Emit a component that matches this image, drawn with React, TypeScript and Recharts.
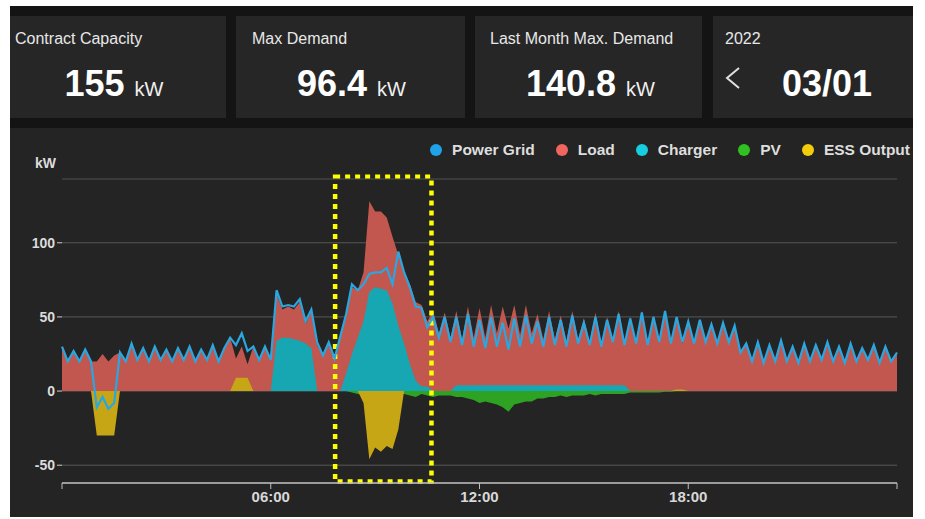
import React from 'react';
import {
  ComposedChart,
  Area,
  Line,
  XAxis,
  YAxis,
  CartesianGrid,
  ReferenceLine,
  ReferenceArea,
} from 'recharts';

// 10-minute samples, 00:00 .. 24:00 (kW)
const powerGrid = [
  30, 20, 27, 20, 28, 20, -11, -4, -12, -8,
  26, 20, 32, 21, 29, 20, 30, 21, 28, 20,
  29, 21, 30, 20, 28, 21, 31, 20, 29, 36,
  31, 39, 27, 30, 21, 30, 21, 68, 57, 58,
  57, 62, 47, 55, 33, 24, 33, 22, 37, 52,
  72, 68, 72, 79, 80, 80, 83, 72, 94, 80,
  70, 57, 56, 43, 50, 36, 50, 33, 50, 31,
  52, 30, 48, 29, 50, 30, 46, 28, 49, 30,
  51, 32, 47, 30, 50, 31, 48, 30, 51, 32,
  46, 31, 50, 30, 48, 33, 52, 31, 49, 32,
  53, 31, 50, 33, 54, 32, 50, 33, 47, 32,
  48, 33, 45, 32, 46, 33, 44, 26, 32, 20,
  33, 19, 31, 20, 34, 20, 30, 19, 32, 20,
  31, 21, 33, 20, 30, 19, 32, 20, 29, 21,
  31, 19, 30, 20, 26,
];

const load = [
  30, 20, 27, 20, 28, 20, 20, 25, 20, 24,
  26, 20, 32, 21, 29, 20, 30, 21, 28, 20,
  29, 21, 30, 20, 28, 21, 31, 20, 29, 36,
  22, 30, 18, 30, 21, 30, 21, 66, 55, 57,
  55, 60, 45, 54, 31, 24, 32, 22, 36, 51,
  70, 68, 80, 128, 121, 121, 117, 104, 92, 81,
  72, 60, 58, 47, 54, 39, 53, 36, 54, 35,
  57, 36, 56, 36, 58, 39, 57, 42, 58, 38,
  58, 39, 52, 35, 54, 35, 51, 34, 54, 35,
  49, 33, 53, 32, 50, 35, 54, 33, 50, 33,
  54, 32, 51, 34, 54, 32, 49, 32, 47, 32,
  48, 33, 45, 32, 46, 33, 44, 26, 32, 20,
  33, 19, 31, 20, 34, 20, 30, 19, 32, 20,
  31, 21, 33, 20, 30, 19, 32, 20, 29, 21,
  31, 19, 30, 20, 26,
];

const charger = [
  0, 0, 0, 0, 0, 0, 0, 0, 0, 0,
  0, 0, 0, 0, 0, 0, 0, 0, 0, 0,
  0, 0, 0, 0, 0, 0, 0, 0, 0, 0,
  0, 0, 0, 0, 0, 0, 0, 34, 36, 36,
  35, 34, 32, 29, 0, 0, 0, 0, 0, 12,
  25, 36, 47, 67, 70, 69, 68, 59, 44, 32,
  18, 7, 3, 3, 0, 0, 0, 0, 4, 4,
  4, 4, 4, 4, 4, 4, 4, 4, 4, 4,
  4, 4, 4, 4, 4, 4, 4, 4, 4, 4,
  4, 4, 4, 4, 4, 4, 4, 4, 0, 0,
  0, 0, 0, 0, 0, 0, 0, 0, 0, 0,
  0, 0, 0, 0, 0, 0, 0, 0, 0, 0,
  0, 0, 0, 0, 0, 0, 0, 0, 0, 0,
  0, 0, 0, 0, 0, 0, 0, 0, 0, 0,
  0, 0, 0, 0, 0,
];

const pv = [
  0, 0, 0, 0, 0, 0, 0, 0, 0, 0,
  0, 0, 0, 0, 0, 0, 0, 0, 0, 0,
  0, 0, 0, 0, 0, 0, 0, 0, 0, 0,
  0, 0, 0, 0, 0, 0, 0, 0, 0, 0,
  0, 0, 0, 0, 0, 0, 0, 0, 0, 0,
  -1, -2, -2, -3, -2, -2, -2, -3, -2, -2,
  -3, -4, -2, -3, -4, -3, -3, -3, -4, -4,
  -5, -6, -8, -7, -8, -9, -11, -14, -9, -8,
  -7, -7, -5, -5, -4, -4, -3, -4, -3, -3,
  -3, -2, -3, -2, -2, -2, -2, -2, -1, -1,
  -1, -1, -1, -1, -0.5, -0.5, 0, 0, 0, 0,
  0, 0, 0, 0, 0, 0, 0, 0, 0, 0,
  0, 0, 0, 0, 0, 0, 0, 0, 0, 0,
  0, 0, 0, 0, 0, 0, 0, 0, 0, 0,
  0, 0, 0, 0, 0,
];

const essOutput = [
  0, 0, 0, 0, 0, 0, -30, -30, -30, -30,
  0, 0, 0, 0, 0, 0, 0, 0, 0, 0,
  0, 0, 0, 0, 0, 0, 0, 0, 0, 0,
  9, 9, 9, 0, 0, 0, 0, 0, 0, 0,
  0, 0, 0, 0, 0, 0, 0, 0, 0, 0,
  0, 0, -8, -46, -38, -41, -37, -39, -26, 0,
  0, 0, 0, 0, 0, 0, 0, 0, 0, 0,
  0, 0, 0, 0, 0, 0, 0, 0, 0, 0,
  0, 0, 0, 0, 0, 0, 0, 0, 0, 0,
  0, 0, 0, 0, 0, 0, 0, 0, 0, 0,
  0, 0, 0, 0, 0, 0, 1, 1, 0, 0,
  0, 0, 0, 0, 0, 0, 0, 0, 0, 0,
  0, 0, 0, 0, 0, 0, 0, 0, 0, 0,
  0, 0, 0, 0, 0, 0, 0, 0, 0, 0,
  0, 0, 0, 0, 0,
];

const xTicks = [0, 6, 12, 18, 24];
const yTicks = [-50, 0, 50, 100];
const yDomain = [-62, 143];
const highlight = { x1: 7.85, x2: 10.62, y1: -61, y2: 144.5 };

const cards = [
  { title: 'Contract Capacity', value: '155', unit: 'kW', left: 10, width: 216, titleLeft: 5, shift: -4 },
  { title: 'Max Demand', value: '96.4', unit: 'kW', left: 236, width: 229, titleLeft: 16, shift: 1 },
  { title: 'Last Month Max. Demand', value: '140.8', unit: 'kW', left: 475, width: 227, titleLeft: 15, shift: 2 },
];

const legendItems = [
  { name: 'Power Grid', color: '#1fa2e8' },
  { name: 'Load', color: '#f0655d' },
  { name: 'Charger', color: '#17cde0' },
  { name: 'PV', color: '#2fc11f' },
  { name: 'ESS Output', color: '#f3cc0c' },
];

const data = powerGrid.map((g, i) => ({
  t: i / 6,
  grid: g,
  load: load[i],
  charger: charger[i],
  pv: pv[i],
  ess: essOutput[i],
}));

const font = '"Liberation Sans", Arial, sans-serif';

const fmtHour = (t: number) =>
  t === 0 || t === 24 ? '' : `${String(t).padStart(2, '0')}:00`;

const Card = ({ c }: { c: typeof cards[number] }) => (
  <div style={{ position: 'absolute', left: c.left, top: 16, width: c.width, height: 102, background: '#262626' }}>
    <div style={{ position: 'absolute', left: c.titleLeft, top: 15, fontSize: 16, lineHeight: '16px', color: '#e8e8e8' }}>
      {c.title}
    </div>
    <div
      style={{
        position: 'absolute',
        left: c.shift,
        width: c.width,
        top: 50,
        textAlign: 'center',
        lineHeight: '36px',
        color: '#ffffff',
        whiteSpace: 'nowrap',
      }}
    >
      <span style={{ fontSize: 36, fontWeight: 'bold' }}>{c.value}</span>
      <span style={{ fontSize: 20, marginLeft: 10, color: '#f0f0f0' }}>{c.unit}</span>
    </div>
  </div>
);

const App: React.FC = () => {
  return (
    <div style={{ position: 'absolute', left: 0, top: 0, width: 925, height: 519, background: '#ffffff', fontFamily: font }}>
      <div style={{ position: 'absolute', left: 10, top: 6, width: 903, height: 511, background: '#141414' }} />
      {cards.map((c) => (
        <Card key={c.title} c={c} />
      ))}
      <div style={{ position: 'absolute', left: 713, top: 16, width: 200, height: 102, background: '#262626' }}>
        <div style={{ position: 'absolute', left: 12, top: 15, fontSize: 16, lineHeight: '16px', color: '#e8e8e8' }}>2022</div>
        <svg style={{ position: 'absolute', left: 11, top: 50 }} width={18} height={24}>
          <polyline points="15,2 3,12 15,22" fill="none" stroke="#e0e0e0" strokeWidth={2} />
        </svg>
        <div style={{ position: 'absolute', left: 69, top: 50, fontSize: 36, lineHeight: '36px', fontWeight: 'bold', color: '#ffffff' }}>
          03/01
        </div>
      </div>

      <div style={{ position: 'absolute', left: 10, top: 128, width: 903, height: 389, background: '#242424' }}>
        <div style={{ position: 'absolute', left: 25, top: 28, fontSize: 14, lineHeight: '14px', fontWeight: 'bold', color: '#dcdcdc' }}>
          kW
        </div>
        <div style={{ position: 'absolute', right: 3, top: 13, height: 18, display: 'flex', alignItems: 'center' }}>
          {legendItems.map((item, i) => (
            <div key={item.name} style={{ display: 'flex', alignItems: 'center', marginLeft: i === 0 ? 0 : 21 }}>
              <span style={{ width: 12, height: 12, borderRadius: 6, background: item.color, display: 'inline-block' }} />
              <span style={{ marginLeft: 10, fontSize: 15.5, fontWeight: 'bold', color: '#dedede' }}>{item.name}</span>
            </div>
          ))}
        </div>

        <ComposedChart width={903} height={389} data={data} margin={{ top: 51, right: 16, bottom: 4, left: 12 }}>
          <CartesianGrid vertical={false} stroke="#585858" />
          <ReferenceLine y={143} stroke="#363636" />
          <XAxis
            dataKey="t"
            type="number"
            domain={[0, 24]}
            ticks={xTicks}
            interval={0}
            tickFormatter={fmtHour}
            height={30}
            tickSize={6}
            axisLine={{ stroke: '#bdbdbd', strokeWidth: 1.5 }}
            tickLine={{ stroke: '#bdbdbd' }}
            tick={{ fill: '#d8d8d8', fontSize: 15, fontWeight: 'bold', fontFamily: font }}
          />
          <YAxis
            type="number"
            domain={yDomain}
            ticks={yTicks}
            allowDataOverflow
            width={40}
            axisLine={false}
            tickSize={5}
            tickLine={{ stroke: '#cfcfcf' }}
            tick={{ fill: '#dcdcdc', fontSize: 14, fontWeight: 'bold', fontFamily: font }}
          />
          <Area type="linear" dataKey="load" baseValue={0} stroke="none" fill="#c1574f" fillOpacity={1} isAnimationActive={false} />
          <Area type="linear" dataKey="charger" baseValue={0} stroke="none" fill="#17a7b3" fillOpacity={1} isAnimationActive={false} />
          <Area type="linear" dataKey="pv" baseValue={0} stroke="none" fill="#2ea323" fillOpacity={1} isAnimationActive={false} />
          <Area type="linear" dataKey="ess" baseValue={0} stroke="none" fill="#c7a616" fillOpacity={1} isAnimationActive={false} />
          <Line type="linear" dataKey="grid" stroke="#2aa6e0" strokeWidth={2.2} dot={false} isAnimationActive={false} />
          <ReferenceArea
            x1={highlight.x1}
            x2={highlight.x2}
            y1={highlight.y1}
            y2={highlight.y2}
            ifOverflow="visible"
            fill="none"
            fillOpacity={0}
            stroke="#ffff00"
            strokeWidth={4.5}
            strokeDasharray="5 5"
          />
        </ComposedChart>
      </div>
    </div>
  );
};

export default App;
